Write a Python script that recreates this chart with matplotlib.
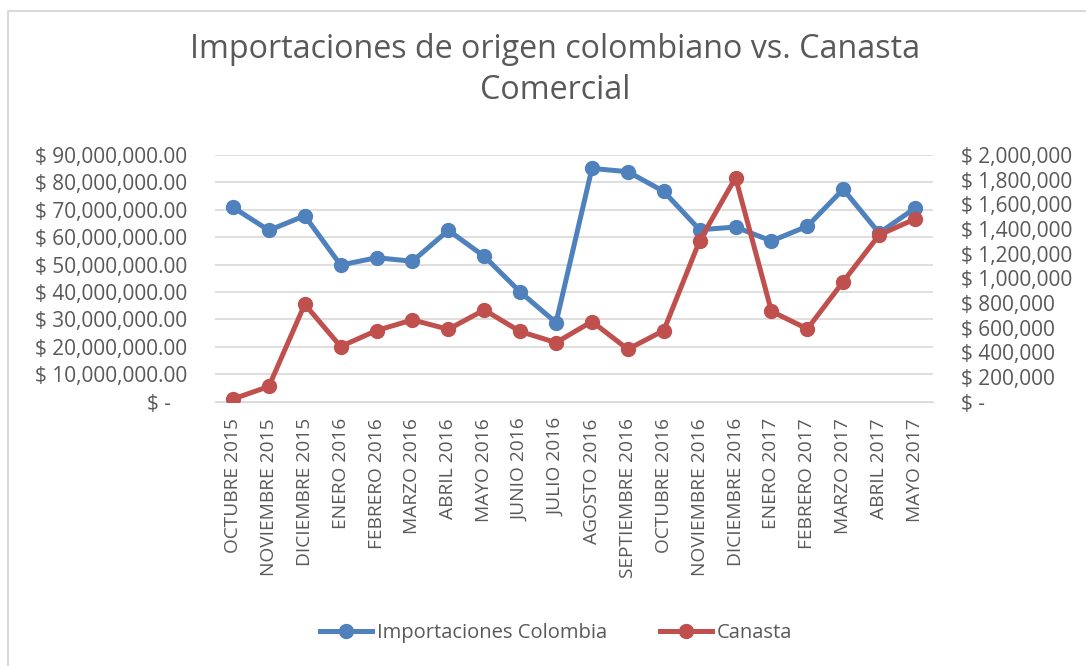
import matplotlib.pyplot as plt
from matplotlib.ticker import FuncFormatter, MultipleLocator
from matplotlib.lines import Line2D

plt.rcParams['font.family'] = ['Open Sans', 'DejaVu Sans']

meses = ['OCTUBRE 2015', 'NOVIEMBRE 2015', 'DICIEMBRE 2015', 'ENERO 2016',
         'FEBRERO 2016', 'MARZO 2016', 'ABRIL 2016', 'MAYO 2016', 'JUNIO 2016',
         'JULIO 2016', 'AGOSTO 2016', 'SEPTIEMBRE 2016', 'OCTUBRE 2016',
         'NOVIEMBRE 2016', 'DICIEMBRE 2016', 'ENERO 2017', 'FEBRERO 2017',
         'MARZO 2017', 'ABRIL 2017', 'MAYO 2017']
importaciones = [70.9e6, 62.5e6, 67.8e6, 49.8e6, 52.5e6, 51.2e6, 62.5e6,
                 53.0e6, 40.0e6, 28.8e6, 85.1e6, 83.9e6, 76.7e6, 62.7e6,
                 63.7e6, 58.6e6, 64.0e6, 77.5e6, 61.5e6, 70.6e6]
canasta = [20000, 122000, 789000, 446000, 576000, 662000, 586000, 743000,
           568000, 478000, 649000, 424000, 576000, 1305000, 1816000, 732000,
           589000, 973000, 1351000, 1481000]

azul = '#4F81BD'
rojo = '#C0504D'
gris = '#595959'

fig = plt.figure(figsize=(10.86, 6.66), dpi=100)
W, H = 1086, 666

# marco del grafico (solo se ven el borde izquierdo y el superior)
fig.add_artist(Line2D([8 / W, 8 / W, 1], [0, 1 - 11 / H, 1 - 11 / H],
                      color='#d9d9d9', lw=1.5))

ax = fig.add_axes([215 / W, 1 - 401.5 / H, (933 - 215) / W, (401.5 - 155) / H])
ax2 = ax.twinx()

x = list(range(len(meses)))
ax.plot(x, importaciones, color=azul, lw=3.6, marker='o', ms=10,
        label='Importaciones Colombia', zorder=3)
ax2.plot(x, canasta, color=rojo, lw=3.6, marker='o', ms=10,
         label='Canasta', zorder=3)

ax.set_xlim(-0.5, len(meses) - 0.5)
ax.set_ylim(0, 90e6)
ax2.set_ylim(0, 2e6)
ax.yaxis.set_major_locator(MultipleLocator(10e6))
ax2.yaxis.set_major_locator(MultipleLocator(2e5))


def fmt_izq(v, pos):
    return '$ -   ' if v == 0 else '$ {:,.2f}'.format(v)


def fmt_der(v, pos):
    return '$ -' if v == 0 else '$ {:,.0f}'.format(v)


ax.yaxis.set_major_formatter(FuncFormatter(fmt_izq))
ax2.yaxis.set_major_formatter(FuncFormatter(fmt_der))

ax.set_xticks(x)
ax.set_xticklabels(meses, rotation=90)
ax.grid(axis='y', color='#d9d9d9', lw=1.2)
ax.set_axisbelow(True)
for a in (ax, ax2):
    for s in a.spines.values():
        s.set_visible(False)
    a.tick_params(length=0, colors=gris, labelsize=15)
ax.spines['bottom'].set_visible(True)
ax.spines['bottom'].set_color('#d9d9d9')
ax.tick_params(axis='y', pad=20)
ax.tick_params(axis='x', pad=12, labelsize=13.8)
ax2.tick_params(axis='y', pad=20)

fig.text(555 / W, 1 - 70 / H, 'Importaciones de origen colombiano vs. Canasta\nComercial',
         ha='center', va='center', fontsize=23.2, color=gris, linespacing=1.3)

h1, l1 = ax.get_legend_handles_labels()
h2, l2 = ax2.get_legend_handles_labels()
fig.legend(h1 + h2, l1 + l2, loc='center', bbox_to_anchor=(556 / W, 1 - 633 / H),
           ncol=2, frameon=False, fontsize=14.5, labelcolor=gris,
           handlelength=2.6, handletextpad=0.25, columnspacing=2.6)

fig.savefig('out.png', dpi=100)
